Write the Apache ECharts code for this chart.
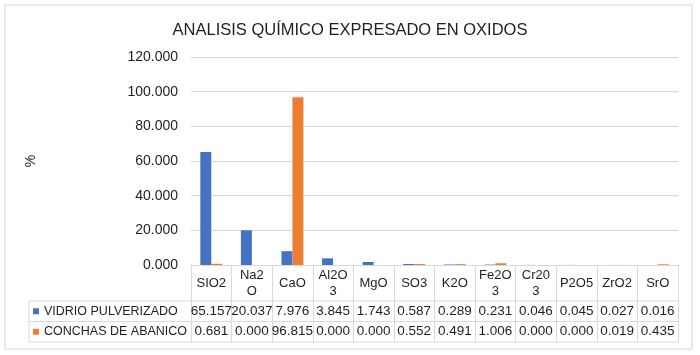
<!DOCTYPE html>
<html>
<head>
<meta charset="utf-8">
<script src="https://cdn.jsdelivr.net/npm/echarts@6/dist/echarts.min.js"></script>
<style>
    html, body { margin: 0; padding: 0; background: #fff; }
    #chart { width: 700px; height: 355px; }
</style>
</head>
<body>
<div id="chart"></div>
<script>
// data
const categories = ['SIO2', 'Na2\nO', 'CaO', 'Al2O\n3', 'MgO', 'SO3', 'K2O', 'Fe2O\n3', 'Cr20\n3', 'P2O5', 'ZrO2', 'SrO']
const vidrio = [65.157, 20.037, 7.976, 3.845, 1.743, 0.587, 0.289, 0.231, 0.046, 0.045, 0.027, 0.016]
const conchas = [0.681, 0.000, 96.815, 0.000, 0.000, 0.552, 0.491, 1.006, 0.000, 0.000, 0.019, 0.435]
const seriesNames = ['VIDRIO PULVERIZADO', 'CONCHAS DE ABANICO']
const colors = ['#4472C4', '#ED7D31']

const font = "'Liberation Sans', Arial, sans-serif"
const narrow = "'Liberation Sans Narrow', 'Arial Narrow', 'Liberation Sans', sans-serif"
const lineColor = '#d9d9d9'

// layout
const gridLeft = 191, gridRight = 678, gridTop = 57, axisY = 265
const headerBottom = 301, rowH = 20.5
const tableLeft = 29

let chart = echarts.init(document.getElementById('chart'), null, {renderer: 'canvas'})

function valueAxis(values, offset) {
    return {
        type: 'category',
        data: categories,
        position: 'bottom',
        offset: offset,
        axisLine: {show: false},
        axisTick: {show: false},
        axisLabel: {
            interval: 0,
            margin: 0,
            verticalAlign: 'middle',
            fontFamily: narrow,
            fontSize: 13.5,
            color: '#1f1f1f',
            formatter: (v, i) => values[i].toFixed(3)
        }
    }
}

let row1 = headerBottom + rowH / 2
let row2 = headerBottom + rowH * 1.5
let tableBottom = headerBottom + rowH * 2

let hLine = y => ({
    type: 'line',
    shape: {x1: tableLeft, y1: y, x2: gridRight, y2: y},
    style: {stroke: lineColor, lineWidth: 1}
})

chart.setOption({
    animation: false,
    title: {
        text: 'ANALISIS QUÍMICO EXPRESADO EN OXIDOS',
        left: 'center',
        top: 17,
        textStyle: {fontFamily: font, fontSize: 16.5, fontWeight: 'normal', color: '#1f1f1f'}
    },
    legend: {
        orient: 'vertical',
        left: 33,
        top: row1 - 7,
        padding: 0,
        itemWidth: 6,
        itemHeight: 6,
        itemGap: rowH - 14,
        icon: 'rect',
        textStyle: {fontFamily: font, fontSize: 12.5, color: '#1f1f1f', lineHeight: 14},
        data: seriesNames
    },
    grid: {
        left: gridLeft,
        right: 700 - gridRight,
        top: gridTop,
        bottom: 355 - axisY
    },
    xAxis: [
        {
            type: 'category',
            data: categories,
            axisLine: {lineStyle: {color: lineColor}},
            axisTick: {show: true, interval: 0, length: tableBottom - axisY, lineStyle: {color: lineColor}},
            axisLabel: {
                interval: 0,
                margin: 18,
                verticalAlign: 'middle',
                lineHeight: 16,
                fontFamily: font,
                fontSize: 13,
                color: '#1f1f1f'
            }
        },
        valueAxis(vidrio, row1 - axisY),
        valueAxis(conchas, row2 - axisY)
    ],
    yAxis: {
        type: 'value',
        min: 0,
        max: 120,
        interval: 20,
        name: '%',
        nameLocation: 'middle',
        nameGap: 153,
        nameTextStyle: {fontFamily: font, fontSize: 14, color: '#1f1f1f'},
        axisLine: {show: false},
        axisTick: {show: false},
        axisLabel: {
            margin: 13,
            fontFamily: font,
            fontSize: 14,
            color: '#1f1f1f',
            formatter: v => v.toFixed(3)
        },
        splitLine: {lineStyle: {color: lineColor}}
    },
    series: [
        {
            name: seriesNames[0],
            type: 'bar',
            data: vidrio,
            itemStyle: {color: colors[0]},
            barGap: '0%',
            barCategoryGap: '46%'
        },
        {
            name: seriesNames[1],
            type: 'bar',
            data: conchas,
            itemStyle: {color: colors[1]}
        }
    ],
    graphic: [
        {
            type: 'rect',
            shape: {x: 5, y: 5, width: 687, height: 344},
            style: {fill: null, stroke: '#e3e3e3', lineWidth: 1.5}
        },
        hLine(headerBottom),
        hLine(headerBottom + rowH),
        hLine(tableBottom),
        {
            type: 'line',
            shape: {x1: tableLeft, y1: headerBottom, x2: tableLeft, y2: tableBottom},
            style: {stroke: lineColor, lineWidth: 1}
        }
    ]
})
</script>
</body>
</html>
